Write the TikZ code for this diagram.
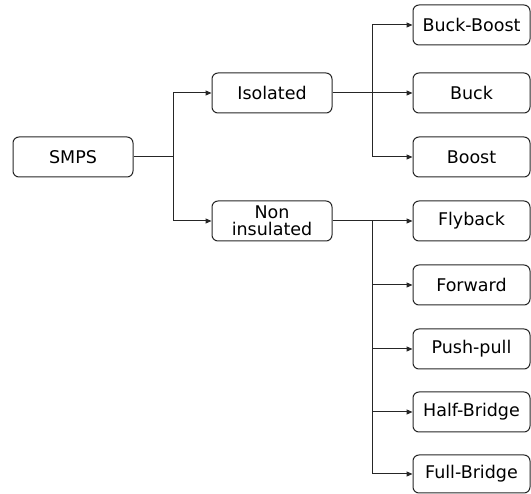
\documentclass[tikz,border=0pt]{standalone}
\usepackage{fontspec}
\setmainfont{DejaVu Sans}
\usetikzlibrary{arrows.meta}
\begin{document}
\begin{tikzpicture}[x=1pt,y=-1pt,
  box/.style={draw=black!85,line width=1pt,rounded corners=6pt,minimum width=120pt,minimum height=40pt,inner sep=0pt,font=\fontsize{17.5}{17}\selectfont,align=center},
  rbox/.style={box,minimum width=117pt},
  arr/.style={line width=1pt,draw=black!85,-{Triangle[length=6pt,width=5pt]}},
  ln/.style={line width=1pt,draw=black!85}]
\useasboundingbox (0,0) rectangle (531,494);
\node[box] (smps) at (73,157) {SMPS};
\node[box] (iso) at (272,93) {Isolated};
\node[box] (non) at (272,221) {Non\\insulated};
\node[rbox] (bb) at (471.5,25) {Buck-Boost};
\node[rbox] (buck) at (471.5,93) {Buck};
\node[rbox] (boost) at (471.5,157) {Boost};
\node[rbox] (fly) at (471.5,221) {Flyback};
\node[rbox] (fwd) at (471.5,285) {Forward};
\node[rbox] (pp) at (471.5,349) {Push-pull};
\node[rbox] (hb) at (471.5,412) {Half-Bridge};
\node[rbox,minimum height=38pt] (fb) at (471.5,474) {Full-Bridge};
\coordinate (j1) at (173,157);
\coordinate (j2) at (372,93);
\coordinate (j3) at (372,221);
\draw[ln] (smps.east) -- (j1);
\draw[arr] (j1) |- (iso.west);
\draw[arr] (j1) |- (non.west);
\draw[arr] (iso.east) -- (buck.west);
\draw[arr] (j2) |- (bb.west);
\draw[arr] (j2) |- (boost.west);
\draw[arr] (non.east) -- (fly.west);
\draw[arr] (j3) |- (fwd.west);
\draw[arr] (j3) |- (pp.west);
\draw[arr] (j3) |- (hb.west);
\draw[arr] (j3) |- (fb.west);
\end{tikzpicture}
\end{document}
